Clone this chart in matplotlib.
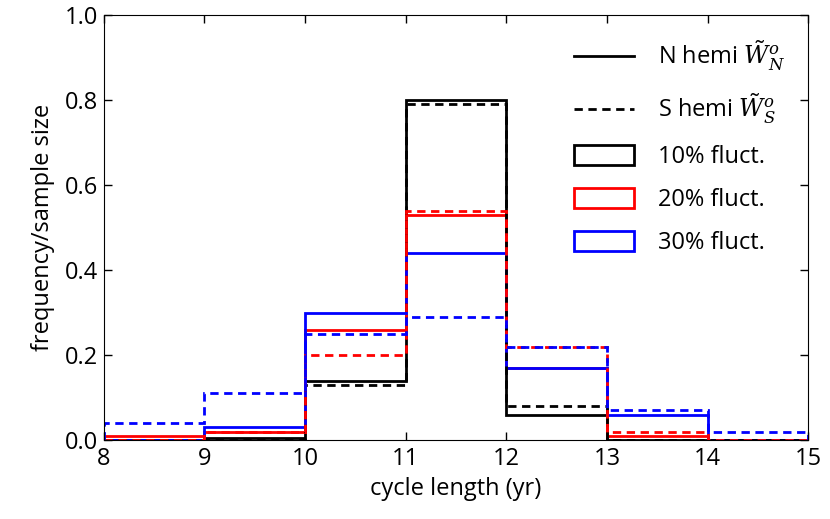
import numpy as np
import matplotlib
matplotlib.use('Agg')
import matplotlib.pyplot as plt
from matplotlib.lines import Line2D
from matplotlib.patches import Patch
from matplotlib.legend_handler import HandlerLine2D

plt.rcParams['font.family'] = ['Open Sans', 'DejaVu Sans']
plt.rcParams['mathtext.fontset'] = 'custom'
plt.rcParams['mathtext.rm'] = 'Open Sans'
plt.rcParams['mathtext.it'] = 'DejaVu Serif:italic'

# bin edges (cycle length in yr) and histogram heights per bin
edges = [8, 9, 10, 11, 12, 13, 14, 15]
n_10 = [0.0, 0.005, 0.14, 0.80, 0.06, 0.0, 0.0]
s_10 = [0.0, 0.0, 0.13, 0.79, 0.08, 0.0, 0.0]
n_20 = [0.01, 0.02, 0.26, 0.53, 0.17, 0.01, 0.0]
s_20 = [0.0, 0.02, 0.20, 0.54, 0.22, 0.02, 0.0]
n_30 = [0.0, 0.03, 0.30, 0.44, 0.17, 0.06, 0.0]
s_30 = [0.04, 0.11, 0.25, 0.29, 0.22, 0.07, 0.02]

fluct_labels = ['10% fluct.', '20% fluct.', '30% fluct.']
colors = ['black', 'red', 'blue']
FS = 17


class ShortLine(HandlerLine2D):
    # legend lines are a bit shorter than the boxes
    def create_artists(self, legend, orig_handle, xdescent, ydescent,
                       width, height, fontsize, trans):
        arts = HandlerLine2D.create_artists(self, legend, orig_handle, xdescent,
                                            ydescent, width, height, fontsize, trans)
        for a in arts:
            xd = a.get_xdata()
            if len(xd) == 2:
                a.set_xdata([xd[0] + 0.14 * width, xd[1] - 0.14 * width])
        return arts


fig = plt.figure(figsize=(8.3, 5.19), dpi=100)
ax = fig.add_axes([0.125, 0.152, 0.849, 0.819])

centers = np.array(edges[:-1]) + 0.5
for vals, c in zip([n_10, n_20, n_30], colors):
    ax.hist(centers, bins=edges, weights=vals, histtype='step', color=c, lw=2)
for vals, c in zip([s_10, s_20, s_30], colors):
    ax.hist(centers, bins=edges, weights=vals, histtype='step', color=c, lw=2,
            linestyle=(0, (3, 2)))

ax.set_xlim(8, 15)
ax.set_ylim(0, 1.0)
ax.set_xticks(edges)
ax.set_yticks(np.arange(0, 1.01, 0.2))
ax.set_yticklabels(['%.1f' % v for v in np.arange(0, 1.01, 0.2)])
ax.tick_params(direction='in', top=True, right=True, labelsize=FS, length=6,
               width=1)
ax.tick_params(axis='x', pad=5)
ax.tick_params(axis='y', pad=4)
ax.set_xlabel('cycle length (yr)', fontsize=FS, labelpad=4)
ax.set_ylabel('frequency/sample size', fontsize=FS, labelpad=7)

handles = [Line2D([], [], color='black', lw=2),
           Line2D([], [], color='black', lw=2, linestyle=(0, (3, 2)))]
labels = [r'N hemi $\tilde{W}^o_N$', r'S hemi $\tilde{W}^o_S$']
for lab, c in zip(fluct_labels, colors):
    handles.append(Patch(facecolor='none', edgecolor=c, lw=2))
    labels.append(lab)
ax.legend(handles, labels, loc='upper right', frameon=False, fontsize=FS,
          handlelength=2.55, handleheight=0.9, labelspacing=0.8,
          borderaxespad=0.85, borderpad=0.15, handletextpad=1.0,
          handler_map={Line2D: ShortLine()})

fig.savefig('out.png', dpi=100)
